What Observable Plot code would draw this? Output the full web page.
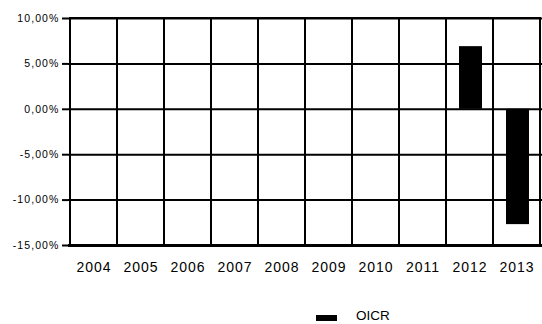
<!DOCTYPE html>
<html>
<head>
<meta charset="utf-8">
<script src="https://cdn.jsdelivr.net/npm/d3@7"></script>
<script src="https://cdn.jsdelivr.net/npm/@observablehq/plot@0.6"></script>
<style>
  body { margin: 0; background: #fff; font-family: "Liberation Sans", Arial, sans-serif; }
  #wrap { position: relative; width: 542px; height: 324px; overflow: hidden; }
  #legend { position: absolute; left: 316px; top: 308px; display: flex; align-items: center; font-size: 13.5px; color: #000; }
  #legend .sw { width: 21px; height: 6px; background: #000; margin-right: 19px; margin-top: 5px; }
  #chart g[aria-label="y-axis tick label"], #chart g[aria-label="y-axis tick label"] text { font-size: 10.5px !important; letter-spacing: 1.1px; }
  #chart g[aria-label="x-axis tick label"], #chart g[aria-label="x-axis tick label"] text { font-size: 14px !important; letter-spacing: 1px; }
</style>
</head>
<body>
<div id="wrap">
  <div id="chart"></div>
  <div id="legend"><span class="sw"></span><span>OICR</span></div>
</div>
<script>
const years = ["2004","2005","2006","2007","2008","2009","2010","2011","2012","2013"];
const seriesName = "OICR";
const oicr = [null, null, null, null, null, null, null, null, 6.9, -12.7];
const yTicks = [-15, -10, -5, 0, 5, 10];

const data = years.map((y, i) => ({year: y, value: oicr[i]}));
const bars = data.filter(d => d.value != null);

const fmt = v => (v < 0 ? "-" : "") + Math.abs(v).toFixed(2).replace(".", ",") + "%";

const chart = Plot.plot({
  width: 542,
  height: 290,
  marginLeft: 68,
  marginRight: 0,
  marginTop: 18,
  marginBottom: 45,
  style: {fontFamily: "'Liberation Sans', Arial, sans-serif", background: "#fff", color: "#000", overflow: "visible"},
  x: {domain: years, paddingInner: 0, paddingOuter: 0, label: null},
  y: {domain: [-15, 10], label: null},
  marks: [
    Plot.barY(years, {x: d => d, y1: -15, y2: 10, fill: "none", stroke: "#000", strokeWidth: 2}),
    Plot.ruleY(yTicks.filter(t => t !== -15), {y: d => d, stroke: "#000", strokeWidth: 2}),
    Plot.ruleY([-15], {y: d => d, stroke: "#000", strokeWidth: 3}),
    Plot.barY(bars, {x: "year", y: "value", fill: "#000", insetLeft: 13, insetRight: 11}),
    Plot.axisY({ticks: yTicks, tickFormat: fmt, tickSize: 6, tickPadding: 3, label: null, strokeWidth: 2}),
    Plot.axisX({tickSize: 0, tickPadding: 17, label: null})
  ]
});
document.getElementById("chart").appendChild(chart);
</script>
</body>
</html>
